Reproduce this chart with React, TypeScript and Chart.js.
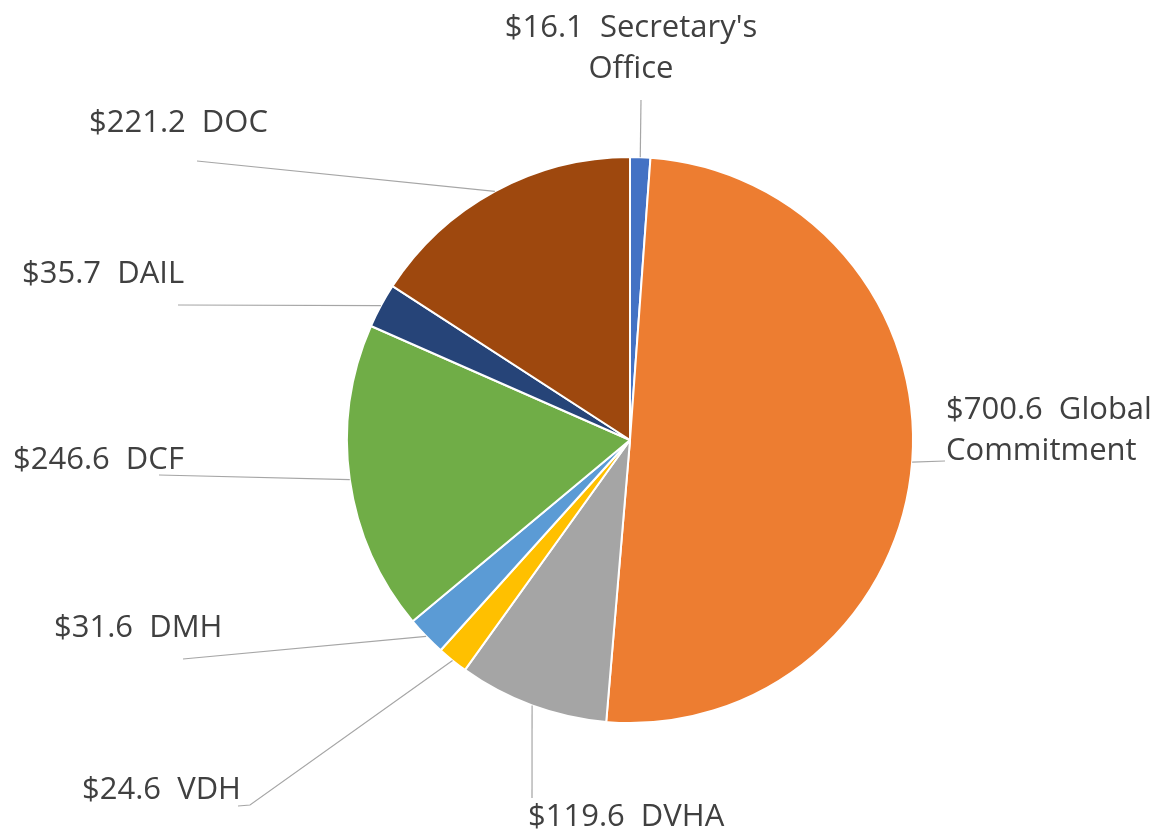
import React, { useEffect, useRef } from "react";
import { Chart, registerables } from "chart.js";

Chart.register(...registerables);

// ---- Data ----
const categories = [
  "Secretary's Office",
  "Global Commitment",
  "DVHA",
  "VDH",
  "DMH",
  "DCF",
  "DAIL",
  "DOC",
];
const values = [16.1, 700.6, 119.6, 24.6, 31.6, 246.6, 35.7, 221.2];
const colors = [
  "#4472C4",
  "#ED7D31",
  "#A5A5A5",
  "#FFC000",
  "#5B9BD5",
  "#70AD47",
  "#264478",
  "#9E480E",
];

// ---- Label layout (text placement + leader line path end points) ----
type LabelLayout = {
  x: number;
  y: number; // baseline of first line
  align: CanvasTextAlign;
  wrap: boolean;
  path: [number, number][];
};
const labelLayout: LabelLayout[] = [
  { x: 631, y: 37, align: "center", wrap: true, path: [[641, 100]] },
  { x: 946, y: 419, align: "left", wrap: true, path: [[945, 461]] },
  { x: 528, y: 826, align: "left", wrap: false, path: [[532, 798]] },
  { x: 82, y: 799, align: "left", wrap: false, path: [[250, 805], [238, 806]] },
  { x: 54, y: 637, align: "left", wrap: false, path: [[183, 659]] },
  { x: 13, y: 469, align: "left", wrap: false, path: [[159, 475]] },
  { x: 22, y: 283, align: "left", wrap: false, path: [[178, 305]] },
  { x: 89, y: 132, align: "left", wrap: false, path: [[197, 161]] },
];

const FONT = '31px "Open Sans", "Liberation Sans", sans-serif';
const LINE_H = 41;

const labelPlugin = {
  id: "outerLabels",
  afterDraw(chart: any) {
    const ctx: CanvasRenderingContext2D = chart.ctx;
    const meta = chart.getDatasetMeta(0);
    ctx.save();
    meta.data.forEach((arc: any, i: number) => {
      const p = arc.getProps(["x", "y", "startAngle", "endAngle", "outerRadius"], true);
      const mid = (p.startAngle + p.endAngle) / 2;
      const sx = p.x + Math.cos(mid) * p.outerRadius;
      const sy = p.y + Math.sin(mid) * p.outerRadius;
      const lay = labelLayout[i];
      ctx.strokeStyle = "#A6A6A6";
      ctx.lineWidth = 1.2;
      ctx.beginPath();
      ctx.moveTo(sx, sy);
      lay.path.forEach(([px, py]) => ctx.lineTo(px, py));
      ctx.stroke();

      const prefix = "$" + values[i].toFixed(1) + "  ";
      const name = categories[i];
      let lines: string[];
      if (lay.wrap) {
        const sp = name.indexOf(" ");
        lines = [prefix + name.slice(0, sp), name.slice(sp + 1)];
      } else {
        lines = [prefix + name];
      }
      ctx.font = FONT;
      ctx.fillStyle = "#404040";
      ctx.textAlign = lay.align;
      ctx.textBaseline = "alphabetic";
      lines.forEach((t, k) => {
        ctx.fillText(t, lay.x, lay.y + k * LINE_H);
      });
    });
    ctx.restore();
  },
};

export default function App() {
  const ref = useRef<HTMLCanvasElement>(null);
  useEffect(() => {
    if (!ref.current) return;
    const chart = new Chart(ref.current, {
      type: "pie",
      data: {
        labels: categories,
        datasets: [
          {
            data: values,
            backgroundColor: colors,
            borderColor: "#FFFFFF",
            borderWidth: 2,
            hoverOffset: 0,
            offset: 0,
          },
        ],
      },
      options: {
        responsive: false,
        animation: false,
        layout: { padding: { left: 346, right: 241, top: 156, bottom: 111 } },
        plugins: { legend: { display: false }, tooltip: { enabled: false } },
      },
      plugins: [labelPlugin],
    });
    return () => chart.destroy();
  }, []);
  return (
    <div
      style={{
        position: "absolute",
        left: 0,
        top: 0,
        width: 1155,
        height: 835,
        background: "#FFFFFF",
      }}
    >
      <canvas ref={ref} width={1155} height={835} />
    </div>
  );
}
